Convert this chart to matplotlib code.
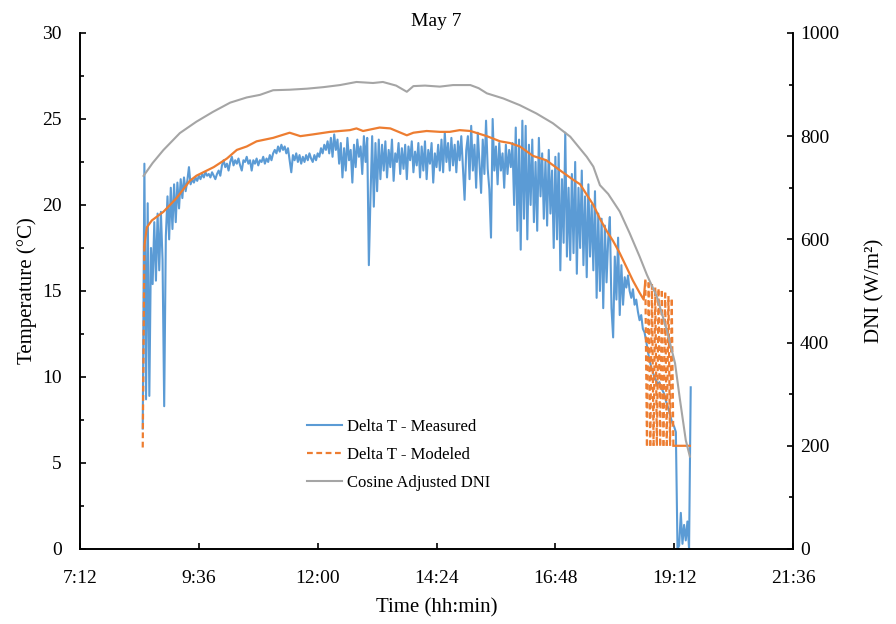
import matplotlib.pyplot as plt
import numpy as np
from matplotlib.collections import LineCollection
from matplotlib.lines import Line2D
from matplotlib.ticker import MultipleLocator, FuncFormatter

plt.rcParams['font.family'] = ['Liberation Serif', 'DejaVu Serif']

# times are minutes after midnight
# Delta T - Measured, one reading every 2 min from 8:28
meas_start = 508
meas_step = 2
measured = [
    7.0, 22.4, 8.7, 20.1, 8.9, 17.5, 15.4, 19.0, 15.6, 19.5,      # 508
    16.2, 19.6, 16.8, 8.3, 18.2, 20.5, 18.0, 21.0, 18.6, 21.2,     # 528
    19.0, 21.3, 19.8, 21.5, 20.4, 21.6, 20.8, 21.4, 22.2, 21.2,    # 548
    21.5, 21.3, 21.6, 21.4, 21.7, 21.5, 21.8, 21.6, 21.9, 21.7,    # 568
    21.8, 21.6, 21.9, 21.7, 21.5, 21.8, 22.0, 21.7, 22.3, 22.6,    # 588
    22.2, 22.4, 22.0, 22.5, 22.8, 22.3, 22.6, 22.4, 22.7, 22.3,    # 608
    22.0, 22.6, 22.5, 22.8, 22.4, 22.6, 22.0, 22.6, 22.4, 22.7,    # 628
    22.3, 22.6, 22.5, 22.8, 22.4, 22.7, 22.5, 22.9, 22.6, 23.0,    # 648
    23.2, 23.0, 23.4, 23.1, 23.5, 23.2, 23.4, 23.0, 23.3, 22.6,    # 668
    21.9, 22.9, 22.6, 23.0, 22.5, 22.9, 22.4, 22.8, 22.5, 22.9,    # 688
    22.6, 23.0, 22.7, 22.5, 22.9, 22.6, 23.0, 22.8, 23.3, 23.0,    # 708
    23.5, 23.2, 23.7, 23.0, 23.9, 22.8, 24.1, 23.2, 23.8, 22.4,    # 728
    23.6, 21.6, 23.3, 22.0, 23.9, 22.6, 23.2, 21.3, 23.5, 22.2,    # 748
    23.8, 22.8, 23.4, 21.8, 24.0, 22.5, 23.9, 16.5, 20.5, 24.0,    # 768
    19.9, 23.6, 20.8, 23.8, 21.5, 23.5, 22.0, 23.7, 21.6, 23.2,    # 788
    22.2, 23.8, 21.4, 23.0, 22.5, 23.6, 21.8, 23.3, 22.1, 23.5,    # 808
    21.5, 23.4, 22.6, 23.7, 21.9, 23.1, 22.3, 23.6, 21.6, 23.4,    # 828
    22.0, 23.7, 21.5, 23.2, 22.4, 23.6, 21.3, 23.0, 22.2, 23.5,    # 848
    22.0, 23.8, 21.9, 24.2, 22.5, 23.6, 22.0, 23.9, 22.3, 23.5,    # 868
    21.9, 23.7, 22.6, 24.0, 22.2, 20.3, 23.2, 24.0, 21.5, 24.6,    # 888
    22.0, 23.5, 21.0, 24.2, 22.4, 20.7, 23.8, 21.8, 24.9, 22.1,    # 908
    20.9, 18.1, 25.0, 22.0, 23.4, 21.2, 23.6, 22.0, 23.0, 21.0,    # 928
    23.5, 21.8, 23.2, 22.2, 23.6, 20.0, 24.5, 18.5, 23.8, 17.4,    # 948
    24.9, 19.2, 24.6, 18.0, 23.5, 20.0, 23.8, 19.0, 22.5, 18.5,    # 968
    23.9, 20.5, 23.0, 19.2, 22.6, 18.8, 23.2, 19.5, 22.0, 17.5,    # 988
    22.8, 18.0, 23.0, 16.2, 21.5, 17.8, 24.2, 17.0, 21.0, 16.8,    # 1008
    21.8, 17.2, 22.5, 16.0, 21.0, 17.5, 22.0, 16.5, 20.5, 15.8,    # 1028
    21.2, 17.0, 20.0, 16.2, 20.8, 14.6, 19.5, 15.0, 19.2, 14.0,    # 1048
    18.8, 15.5, 18.0, 19.3, 14.0, 12.3, 17.0, 14.5, 18.1, 13.6,    # 1068
    16.5, 14.2, 15.8, 15.2, 15.9, 15.0, 14.6, 15.1, 14.2, 14.5,    # 1088
    13.8, 13.3, 13.6, 12.8, 12.6, 12.1, 11.5, 11.0, 10.6, 10.3,    # 1108
    10.0, 9.8, 9.6, 9.7, 9.4, 9.2, 9.0, 8.6, 8.3, 8.0,             # 1128
    7.6, 7.3, 7.1, 6.8, 0.0, 0.2, 2.1, 0.3, 1.4, 0.5,              # 1148
    1.6, 0.0, 9.4,                                                 # 1168
]

# Delta T - Modeled
model_time = [508, 510, 511, 513, 519, 533, 549, 565, 573, 594,
              610, 622, 634, 646, 666, 686, 699, 714, 735, 759,
              767, 775, 795, 808, 828, 836, 852, 868, 880, 892,
              905, 925, 941, 953, 965, 981, 997, 1014, 1030, 1038,
              1046, 1054, 1062, 1070, 1078, 1086, 1094, 1102, 1110, 1115,
              1117, 1119, 1121, 1123, 1125, 1127, 1129, 1131, 1133, 1135,
              1137, 1139, 1141, 1143, 1145, 1147, 1149, 1151, 1160, 1171]
modeled = [5.9, 17.6, 18.0, 18.7, 19.1, 19.6, 20.4, 21.4, 21.7, 22.2,
           22.7, 23.2, 23.4, 23.7, 23.9, 24.2, 24.0, 24.1, 24.25, 24.35,
           24.45, 24.3, 24.5, 24.45, 24.05, 24.2, 24.3, 24.25, 24.25, 24.35,
           24.3, 24.0, 23.7, 23.6, 23.4, 22.85, 22.6, 22.0, 21.45, 21.2,
           20.6, 20.0, 19.2, 18.5, 17.9, 17.2, 16.4, 15.6, 14.9, 14.5,
           15.6, 6.0, 15.5, 6.0, 15.4, 6.0, 15.2, 6.0, 15.1, 6.0,
           15.0, 6.0, 14.9, 6.0, 14.7, 6.0, 14.5, 6.0, 6.0, 6.0]

# Cosine Adjusted DNI (W/m2)
dni_time = [509, 520, 533, 553, 573, 593, 614, 634, 650, 666,
            686, 707, 727, 747, 767, 787, 799, 815, 828, 836,
            850, 868, 884, 905, 915, 925, 945, 965, 985, 1005,
            1026, 1046, 1054, 1062, 1072, 1086, 1098, 1110, 1119, 1131,
            1143, 1153, 1159, 1166, 1171]
dni = [723, 748, 773, 806, 828, 847, 865, 875, 880, 889,
       890, 892, 895, 899, 905, 903, 905, 898, 886, 897,
       898, 896, 899, 899, 893, 883, 873, 860, 844, 825,
       799, 760, 741, 705, 688, 654, 612, 567, 531, 489,
       424, 360, 289, 211, 179]

blue = '#5B9BD5'
orange = '#ED7D31'
grey = '#A5A5A5'

meas_time = meas_start + meas_step * np.arange(len(measured))

fig = plt.figure(figsize=(8.96, 6.24), dpi=100)
ax = fig.add_axes([0.0893, 0.1202, 0.7958, 0.827])
ax2 = ax.twinx()

ax.plot(meas_time, measured, color=blue, lw=1.5)

# modeled: long jumps drawn dashed (dash restarts each segment), rest solid
pts = np.column_stack([model_time, modeled])
jump = np.abs(np.diff(modeled)) > 3
dash_segs = [pts[i:i + 2] for i in np.where(jump)[0]]
ax.add_collection(LineCollection(dash_segs, colors=orange, linewidths=1.6,
                                 linestyles=[(0, (2.6, 1.6))]))
sx, sy = [model_time[0]], [modeled[0]]
for i, j in enumerate(jump):
    if j:
        sx.append(np.nan)
        sy.append(np.nan)
    sx.append(model_time[i + 1])
    sy.append(modeled[i + 1])
ax.plot(sx, sy, color=orange, lw=1.6)

ax2.plot(dni_time, dni, color=grey, lw=1.5)

ax.set_xlim(432, 1296)
ax.set_ylim(0, 30)
ax2.set_ylim(0, 1000)
ax.xaxis.set_major_locator(MultipleLocator(144))
ax.xaxis.set_major_formatter(FuncFormatter(lambda m, p: f"{int(m // 60)}:{int(m % 60):02d}"))
ax.yaxis.set_major_locator(MultipleLocator(5))
ax.yaxis.set_minor_locator(MultipleLocator(2.5))
ax2.yaxis.set_major_locator(MultipleLocator(200))
ax2.yaxis.set_minor_locator(MultipleLocator(100))

for a in (ax, ax2):
    a.spines['top'].set_visible(False)
    for s in a.spines.values():
        s.set_linewidth(1.2)
ax.tick_params(axis='both', which='major', direction='in', length=4, width=1.2,
               labelsize=14)
ax.tick_params(axis='y', which='minor', direction='in', length=3, width=1.2)
ax.tick_params(axis='y', pad=13)
ax.tick_params(axis='x', pad=15)
ax2.tick_params(axis='y', which='major', direction='in', length=4, width=1.2,
                labelsize=14, pad=5)
ax2.tick_params(axis='y', which='minor', direction='in', length=3, width=1.2)

ax.set_title('May 7', fontsize=14, pad=5)
ax.set_xlabel('Time (hh:min)', fontsize=15, labelpad=8)
ax.set_ylabel('Temperature (°C)', fontsize=15, labelpad=4)
ax2.set_ylabel('DNI (W/m²)', fontsize=15, labelpad=19)

handles = [Line2D([], [], color=blue, lw=1.5),
           Line2D([], [], color=orange, lw=1.6, ls=(0, (2.6, 1.6))),
           Line2D([], [], color=grey, lw=1.5)]
labels = ['Delta T - Measured', 'Delta T - Modeled', 'Cosine Adjusted DNI']
fig.legend(handles, labels, loc='upper left', bbox_to_anchor=(300 / 896, 1 - 412 / 624),
           frameon=False, fontsize=12, handlelength=2.1, handletextpad=0.3,
           labelspacing=0.72, borderaxespad=0)

fig.savefig('out.png', dpi=100)
